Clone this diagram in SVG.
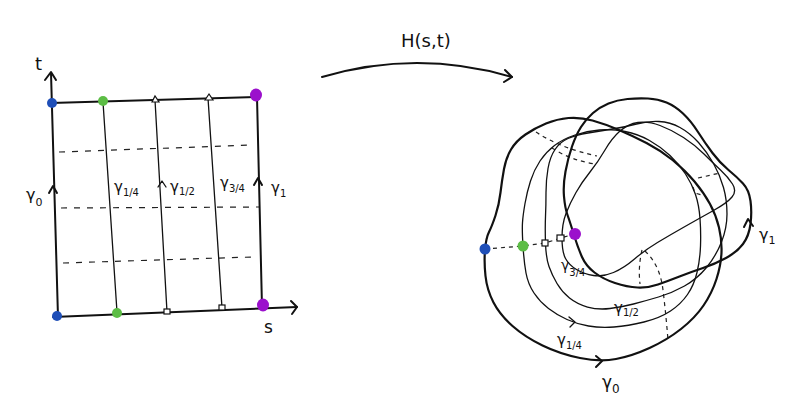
<svg xmlns="http://www.w3.org/2000/svg" width="787" height="406" viewBox="0 0 787 406">
<style>
.bd{fill:none;stroke:#111;stroke-width:2;stroke-linecap:round;stroke-linejoin:round}
.th{fill:none;stroke:#111;stroke-width:1.3;stroke-linecap:round;stroke-linejoin:round}
.tk{fill:none;stroke:#111;stroke-width:2.2;stroke-linecap:round;stroke-linejoin:round}
.ds{fill:none;stroke:#222;stroke-width:1.2;stroke-dasharray:6,7}
.dr{fill:none;stroke:#222;stroke-width:1.2;stroke-dasharray:4,4}
.mk{fill:#fff;stroke:#111;stroke-width:1.2}
.lb{font-family:"DejaVu Sans",sans-serif;fill:#111}
.blue{fill:#1f4fb8}.green{fill:#5cbd45}.purple{fill:#9b10cc}
</style>
<rect width="787" height="406" fill="#fff"/>
<g id="square-domain">
<line class="ds" x1="59" y1="152" x2="253" y2="145"/>
<line class="ds" x1="61" y1="208" x2="259" y2="207"/>
<line class="ds" x1="63" y1="263" x2="252" y2="257"/>
<path class="bd" d="M51,73 L58,317"/>
<path class="bd" d="M45,80 L51,72 L56,80"/>
<path class="bd" d="M53,317 L297,307"/>
<path class="bd" d="M291,301 L297,307 L292,314"/>
<path class="bd" d="M51,103 L257,97"/>
<path class="bd" d="M257,97 L262,307"/>
<path class="th" d="M103,102 L117,312"/>
<path class="th" d="M155,100 L167,312"/>
<path class="th" d="M208,98 L222,308"/>
<path class="bd" d="M49,193 L53,186 L57,193"/>
<path class="th" d="M158,187 L162,181 L166,187"/>
<path class="bd" d="M254,185 L258,178 L262,185"/>
<circle class="blue" cx="52" cy="103" r="5"/>
<circle class="blue" cx="57" cy="316" r="5"/>
<circle class="green" cx="103" cy="101" r="5"/>
<circle class="green" cx="117" cy="313" r="5"/>
<ellipse class="purple" cx="256" cy="95" rx="6" ry="6.5"/>
<ellipse class="purple" cx="263" cy="305" rx="6" ry="6.5"/>
<path class="mk" d="M152,102 L155,96 L159,102 Z"/>
<path class="mk" d="M205,100 L209,94 L213,100 Z"/>
<rect class="mk" x="164" y="309" width="6" height="5"/>
<rect class="mk" x="219" y="305" width="6" height="5"/>
<text class="lb" x="35" y="70" font-size="18">t</text>
<text class="lb" x="264" y="333" font-size="17">s</text>
<text class="lb" x="26" y="200" font-size="16">γ<tspan font-size="11" dy="6">0</tspan></text>
<text class="lb" x="114" y="192" font-size="15">γ<tspan font-size="10" dy="4">1/4</tspan></text>
<text class="lb" x="170" y="192" font-size="15">γ<tspan font-size="10" dy="3">1/2</tspan></text>
<text class="lb" x="220" y="188" font-size="15">γ<tspan font-size="10" dy="4">3/4</tspan></text>
<text class="lb" x="271" y="193" font-size="15">γ<tspan font-size="10" dy="4">1</tspan></text>
</g>
<g id="map-arrow">
<path class="bd" d="M322,77 Q417,49 512,77"/>
<path class="bd" d="M505,70 L512,77 L504,82"/>
<text class="lb" x="401" y="47" font-size="18">H(s,t)</text>
</g>
<g id="image-loops">
<path class="dr" d="M485,249 L523,246 L545,243 L561,238 L574,234"/>
<path class="dr" d="M536,132 Q560,148 597,156"/>
<path class="dr" d="M552,148 Q570,160 595,164"/>
<path class="dr" d="M698,178 L720,173"/>
<path class="dr" d="M693,187 L695,193 L702,195"/>
<path class="dr" d="M642,250 Q638,267 640,284"/>
<path class="dr" d="M645,251 Q660,265 663,290 Q666,315 668,340"/>
<path class="tk" d="M485,250 Q484,262 485.5,276 Q487,290 493.5,302.5 Q500,315 512.5,326 Q525,337 542.5,345.5 Q560,354 580,358 Q600,362 616,359 Q632,356 649.5,348 Q667,340 681,329 Q695,318 703.5,305.5 Q712,293 716.5,279 Q721,265 721.5,252.5 Q722,240 719,227.5 Q716,215 710,204 Q704,193 694.5,181.5 Q685,170 672.5,160 Q660,150 646.5,143 Q633,136 619,130 Q605,124 592.5,120.5 Q580,117 568.5,118 Q557,119 546,123.5 Q535,128 525.5,134.5 Q516,141 511,149.5 Q506,158 504,169 Q502,180 500.5,192.5 Q499,205 495.5,215.5 Q492,226 489,232 Q486,238 485,250 Z"/>
<path class="tk" d="M574,235 Q578,248 582,257 Q586,266 594.5,272.5 Q603,279 615,283 Q627,287 637.5,287.5 Q648,288 658,284.5 Q668,281 679.5,276.5 Q691,272 703,268 Q715,264 726,258 Q737,252 743,244 Q749,236 750.5,224 Q752,212 750.5,201 Q749,190 743,183.5 Q737,177 728.5,170 Q720,163 712.5,153 Q705,143 698,132 Q691,121 683,113.5 Q675,106 666.5,102.5 Q658,99 648,98.5 Q638,98 627.5,99 Q617,100 608.5,103.5 Q600,107 593,113 Q586,119 581,127 Q576,135 572,146.5 Q568,158 565.5,171.5 Q563,185 564,196.5 Q565,208 567.5,215 Q570,222 574,235 Z"/>
<path class="th" d="M523,246 Q524,262 526,273 Q528,284 534,293 Q540,302 548.5,308.5 Q557,315 567,319.5 Q577,324 588.5,326 Q600,328 614,327 Q628,326 644,322 Q660,318 670.5,311 Q681,304 687.5,294.5 Q694,285 697,272.5 Q700,260 700.5,246 Q701,232 700,218.5 Q699,205 695.5,194.5 Q692,184 685.5,174 Q679,164 670,155.5 Q661,147 649.5,140.5 Q638,134 625,131.5 Q612,129 599.5,130 Q587,131 575,135 Q563,139 554.5,145.5 Q546,152 540,161 Q534,170 530.5,181 Q527,192 525,203.5 Q523,215 522.5,222.5 Q522,230 523,246 Z"/>
<path class="th" d="M545.5,243 Q546,258 549,266.5 Q552,275 557,283.5 Q562,292 569.5,298 Q577,304 587.5,307 Q598,310 610,308.5 Q622,307 633.5,304 Q645,301 658.5,297 Q672,293 684.5,286 Q697,279 706.5,267.5 Q716,256 721.5,242 Q727,228 727,214 Q727,200 723.5,187.5 Q720,175 713.5,163.5 Q707,152 698.5,142.5 Q690,133 680,127.5 Q670,122 659,121.5 Q648,121 636.5,124 Q625,127 612.5,129 Q600,131 588,133 Q576,135 568,138.5 Q560,142 555,149.5 Q550,157 548,168.5 Q546,180 546,192.5 Q546,205 545.5,216.5 Q545,228 545.5,243 Z"/>
<path class="th" d="M562,238 Q562,252 565.5,258.5 Q569,265 576.5,269.5 Q584,274 593.5,275.5 Q603,277 613.5,272.5 Q624,268 634.5,259 Q645,250 657.5,242.5 Q670,235 685,226.5 Q700,218 713.5,210.5 Q727,203 732,197 Q737,191 732.5,184 Q728,177 720.5,170 Q713,163 704,154 Q695,145 683.5,137.5 Q672,130 660,125.5 Q648,121 638,122.5 Q628,124 620,131 Q612,138 605,150 Q598,162 590,172 Q582,182 576,192.5 Q570,203 566,213.5 Q562,224 562,238 Z"/>
<path class="bd" d="M596,356 L602,361 L596,367"/>
<path class="th" d="M569,317 L575,322 L570,327"/>
<path class="bd" d="M744,227 L748,219 L753,226"/>
<circle class="blue" cx="485" cy="249" r="5.5"/>
<circle class="green" cx="523" cy="246" r="5.5"/>
<rect class="mk" x="542" y="240" width="6" height="6"/>
<rect class="mk" x="557" y="235" width="7" height="6"/>
<circle class="purple" cx="575" cy="234" r="6"/>
<text class="lb" x="759" y="240" font-size="16">γ<tspan font-size="11" dy="4">1</tspan></text>
<text class="lb" x="561" y="270" font-size="14">γ<tspan font-size="10" dy="6">3/4</tspan></text>
<text class="lb" x="614" y="313" font-size="15">γ<tspan font-size="10" dy="3">1/2</tspan></text>
<text class="lb" x="557" y="345" font-size="15">γ<tspan font-size="10" dy="4">1/4</tspan></text>
<text class="lb" x="602" y="388" font-size="17">γ<tspan font-size="12" dy="5">0</tspan></text>
</g>
</svg>
